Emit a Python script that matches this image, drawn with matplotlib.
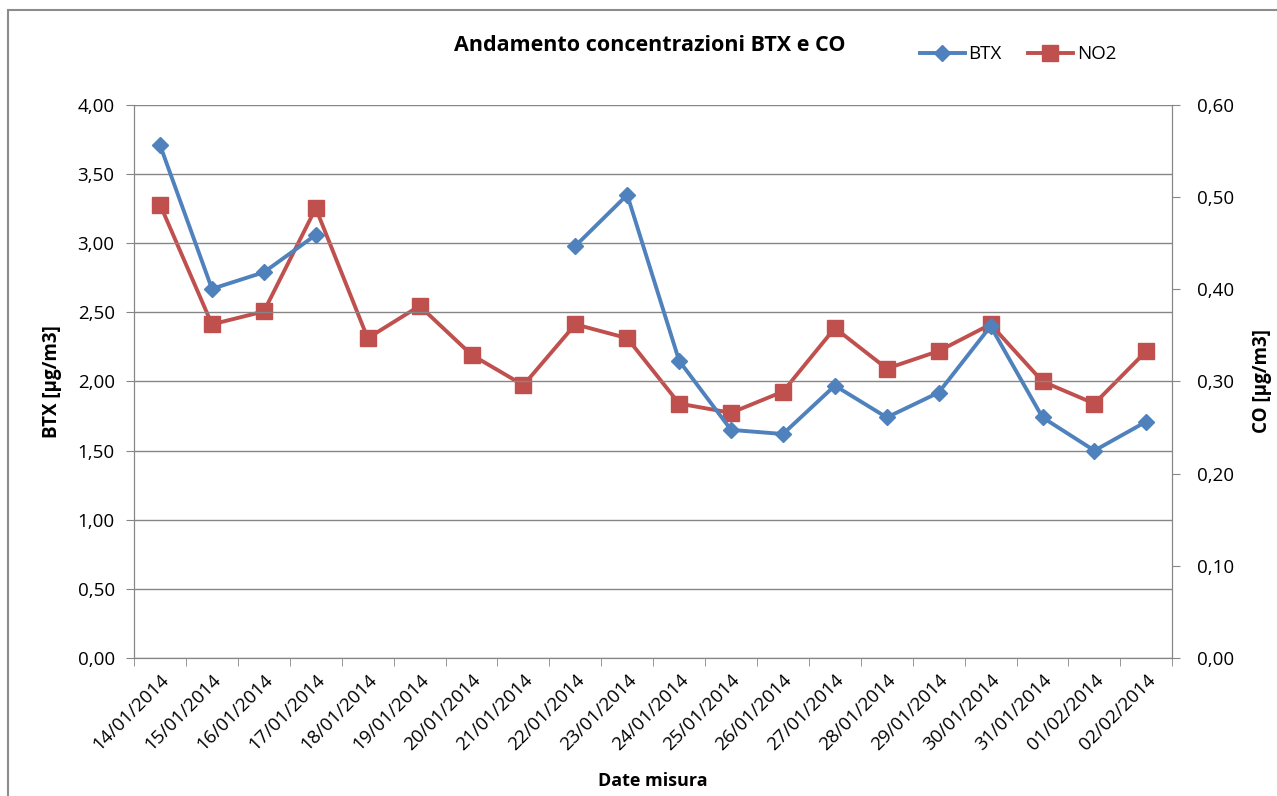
#!/usr/bin/env python3
# -*- coding=utf-8 -*-

import numpy as np
import matplotlib
matplotlib.use('Agg')
import matplotlib.pyplot as plt
from matplotlib.patches import Rectangle
from matplotlib.ticker import FuncFormatter

plt.rcParams['font.family'] = ['Open Sans', 'DejaVu Sans']

dates = ['14/01/2014', '15/01/2014', '16/01/2014', '17/01/2014', '18/01/2014',
         '19/01/2014', '20/01/2014', '21/01/2014', '22/01/2014', '23/01/2014',
         '24/01/2014', '25/01/2014', '26/01/2014', '27/01/2014', '28/01/2014',
         '29/01/2014', '30/01/2014', '31/01/2014', '01/02/2014', '02/02/2014']
btx = [3.71, 2.67, 2.79, 3.06, np.nan, np.nan, np.nan, np.nan, 2.98, 3.35,
       2.15, 1.65, 1.62, 1.97, 1.74, 1.92, 2.40, 1.74, 1.50, 1.71]
no2 = [0.492, 0.362, 0.376, 0.488, 0.347, 0.382, 0.329, 0.296, 0.362, 0.347,
       0.276, 0.266, 0.289, 0.358, 0.314, 0.333, 0.362, 0.300, 0.276, 0.333]

blue = '#4F81BD'
red = '#C0504D'
grey = '#868686'

fig = plt.figure(figsize=(12.77, 7.96), dpi=100)
fig.patches.append(Rectangle((0.006, -0.01), 1.2, 0.998, transform=fig.transFigure,
                             fill=False, edgecolor='#8c8c8c', linewidth=1.5))
ax = fig.add_axes([0.105, 0.1734, 0.813, 0.6947])
ax2 = ax.twinx()

x = np.arange(len(dates))
l1, = ax.plot(x, btx, color=blue, linewidth=2.8, marker='D', markersize=8.5, label='BTX')
l2, = ax2.plot(x, no2, color=red, linewidth=2.8, marker='s', markersize=11.5, label='NO2')
ax.set_zorder(ax2.get_zorder() + 1)
ax.patch.set_visible(False)

comma = lambda fmt: FuncFormatter(lambda v, p: (fmt % v).replace('.', ','))

ax.set_xlim(-0.5, len(dates) - 0.5)
ax.set_ylim(0, 4)
ax.set_yticks(np.arange(0, 4.01, 0.5))
ax.yaxis.set_major_formatter(comma('%.2f'))
ax2.set_ylim(0, 0.6)
ax2.set_yticks(np.arange(0, 0.61, 0.1))
ax2.yaxis.set_major_formatter(comma('%.2f'))

ax.set_xticks(x)
ax.set_xticklabels(dates, rotation=45, ha='right', rotation_mode='anchor')
ax.set_xticks(np.arange(-0.5, len(dates)), minor=True)
ax.tick_params(axis='x', which='major', length=0, pad=9, labelsize=13.5)
ax.tick_params(axis='x', which='minor', length=6, color=grey)
ax.tick_params(axis='y', length=6, color=grey, labelsize=13.5, pad=8)
ax2.tick_params(axis='y', length=6, color=grey, labelsize=13.5, pad=12)

ax.yaxis.grid(True, color=grey, linewidth=1)
ax.set_axisbelow(True)
for a in (ax, ax2):
    a.spines['top'].set_visible(False)
    for s in ('left', 'right', 'bottom'):
        a.spines[s].set_color(grey)

ax.set_ylabel('BTX [µg/m3]', fontweight='bold', fontsize=13.5, labelpad=11)
ax2.set_ylabel('CO [µg/m3]', fontweight='bold', fontsize=13.5, labelpad=13)
ax.set_xlabel('Date misura', fontweight='bold', fontsize=13, labelpad=13)

fig.text(0.509, 0.943, 'Andamento concentrazioni BTX e CO', ha='center', va='center',
         fontsize=15.5, fontweight='bold')
fig.legend(handles=[l1, l2], loc='center', bbox_to_anchor=(0.797, 0.932), ncol=2,
           frameon=False, fontsize=13.5, handlelength=2.4, columnspacing=1.4,
           handletextpad=0.2)

fig.savefig('out.png', dpi=100)
